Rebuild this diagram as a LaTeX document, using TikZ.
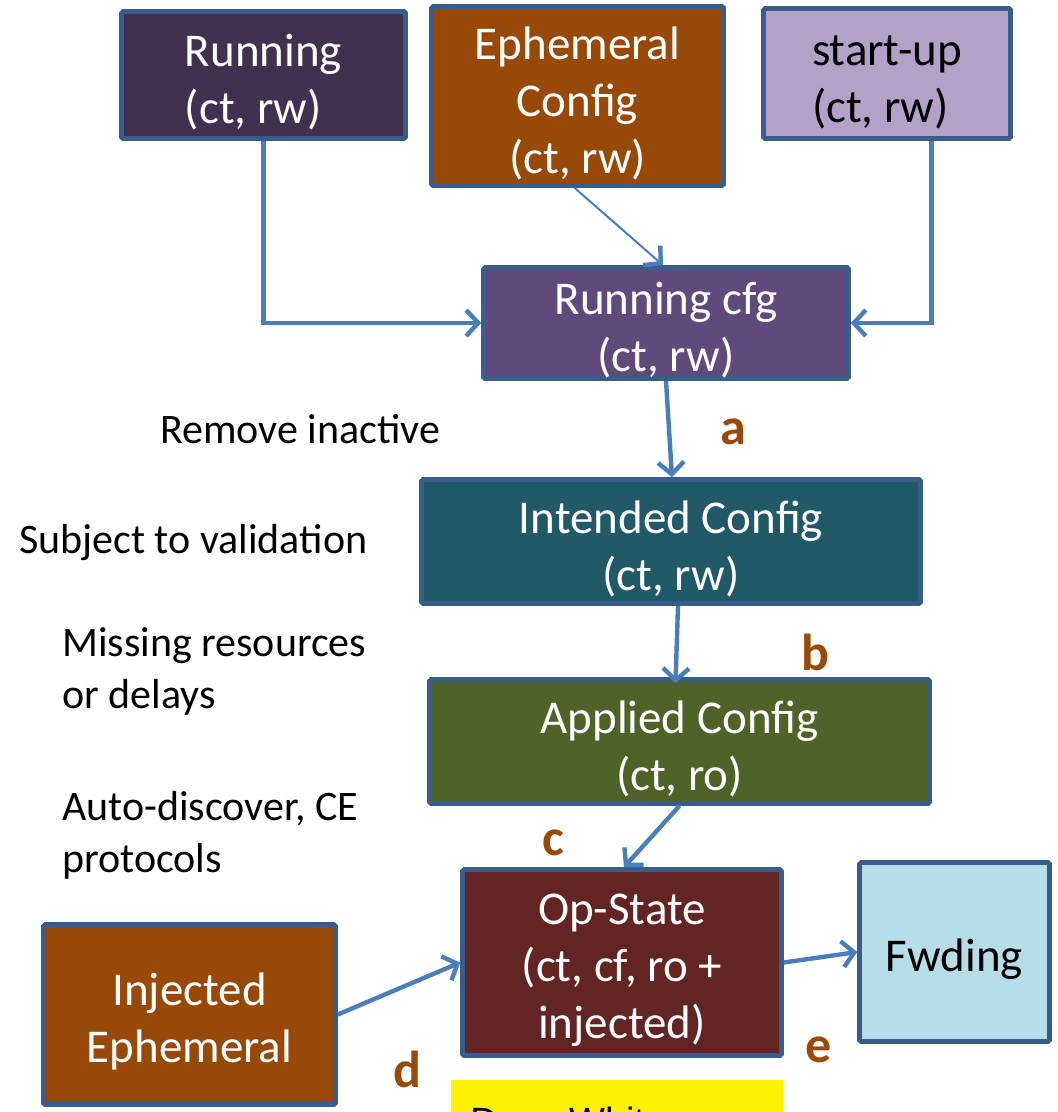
\documentclass[tikz,border=0pt]{standalone}
\usepackage{fontspec}
\setmainfont{Carlito}
\newfontfamily\arialfont{Liberation Sans}
\usetikzlibrary{arrows.meta}

\definecolor{edgeblue}{HTML}{385D8A}
\definecolor{flowblue}{HTML}{4A7EBB}
\definecolor{runfill}{HTML}{403151}
\definecolor{ephfill}{HTML}{984807}
\definecolor{startfill}{HTML}{B3A2C7}
\definecolor{cfgfill}{HTML}{604A7B}
\definecolor{intfill}{HTML}{215968}
\definecolor{appfill}{HTML}{4F6228}
\definecolor{opfill}{HTML}{632523}
\definecolor{fwdfill}{HTML}{B7DEE8}
\definecolor{tagcol}{HTML}{9A4A08}

% invisible strut that sets the text a little lower inside each box
\newcommand\lift{\rule{0pt}{47pt}}

\tikzset{
  box/.style={draw=edgeblue, line width=4.6pt, rounded corners=1.5pt,
    inner sep=0pt, align=center, text=white,
    font=\fontsize{47}{57}\selectfont},
  note/.style={anchor=west, align=left, inner sep=0pt,
    font=\fontsize{42}{52}\selectfont},
  tag/.style={inner sep=0pt, text=tagcol,
    font=\fontsize{52}{60}\selectfont\bfseries},
  flow/.style={draw=flowblue, line width=4.4pt,
    -{Straight Barb[length=12pt,width=26pt,line width=4.4pt]}},
  thinflow/.style={draw=flowblue, line width=2pt,
    -{Straight Barb[length=12pt,width=26pt,line width=4.4pt]}}
}

\begin{document}
\begin{tikzpicture}[x=1pt, y=-1pt]
\useasboundingbox (0,0) rectangle (1058,1112);
\clip (0,0) rectangle (1058,1112);
\fill[white] (0,0) rectangle (1058,1112);

% configuration sources
\node[box, fill=runfill, minimum width=284pt, minimum height=127pt, align=left]
  (run) at (263.5,75) {\lift Running\\(ct, rw)};
\node[box, fill=ephfill, minimum width=292pt, minimum height=179pt]
  (eph) at (577.5,96) {\lift Ephemeral\\Config\\(ct, rw)};
\node[box, fill=startfill, text=black, minimum width=247pt, minimum height=130pt,
  align=left]
  (su) at (887,73.5) {\lift start-up\\(ct, rw)};

% pipeline
\node[box, fill=cfgfill, minimum width=365pt, minimum height=111pt]
  (rcfg) at (666,323) {\lift Running cfg\\(ct, rw)};
\node[box, fill=intfill, minimum width=499pt, minimum height=124pt]
  (int) at (671,541.5) {\lift Intended Config\\(ct, rw)};
\node[box, fill=appfill, minimum width=500pt, minimum height=124pt]
  (app) at (679.5,741.5) {\lift Applied Config\\(ct, ro)};
\node[box, fill=opfill, minimum width=319pt, minimum height=186pt]
  (op) at (622,962.5) {\lift Op-State\\(ct, cf, ro +\\injected)};
\node[box, fill=fwdfill, text=black, minimum width=190pt, minimum height=179pt]
  (fw) at (954.5,952) {\lift Fwding};
\node[box, fill=ephfill, minimum width=292pt, minimum height=180pt]
  (inj) at (189.5,1014.5) {\lift Injected\\Ephemeral};

% author credit strip
\node[fill=yellow, minimum width=332pt, minimum height=80pt, anchor=north west,
  inner sep=0pt] (credit) at (451,1080) {};
\node[anchor=base west, inner sep=0pt, font=\arialfont\fontsize{38}{44}\selectfont]
  (creditname) at (470,1134) {Dave White};

% side notes
\node[note] (n1) at (160,429) {Remove inactive};
\node[note] (n2) at (19,543) {Subject to validation};
\node[note] (n3) at (62,671) {Missing resources\\or delays};
\node[note] (n4) at (62,835) {Auto-discover, CE\\protocols};

% stage tags
\node[tag] (ta) at (733,432) {a};
\node[tag] (tb) at (815,652) {b};
\node[tag] (tc) at (553,843) {c};
\node[tag] (td) at (407,1069) {d};
\node[tag] (te) at (819,1050) {e};

% connectors
\draw[flow] (run.south) |- (rcfg.west);
\draw[flow] ([xshift=44.5pt]su.south) |- (rcfg.east);
\draw[thinflow] ([xshift=-3pt]eph.south) -- ([xshift=-3pt]rcfg.north);
\draw[flow] (rcfg.south) -- ([xshift=1pt]int.north);
\draw[flow] ([xshift=7pt]int.south) -- ([xshift=-4pt,yshift=-6pt]app.north);
\draw[flow] (app.south) -- ([xshift=2pt]op.north);
\draw[flow] (inj.east) -- (op.west);
\draw[flow] (op.east) -- (fw.west);
\end{tikzpicture}
\end{document}
